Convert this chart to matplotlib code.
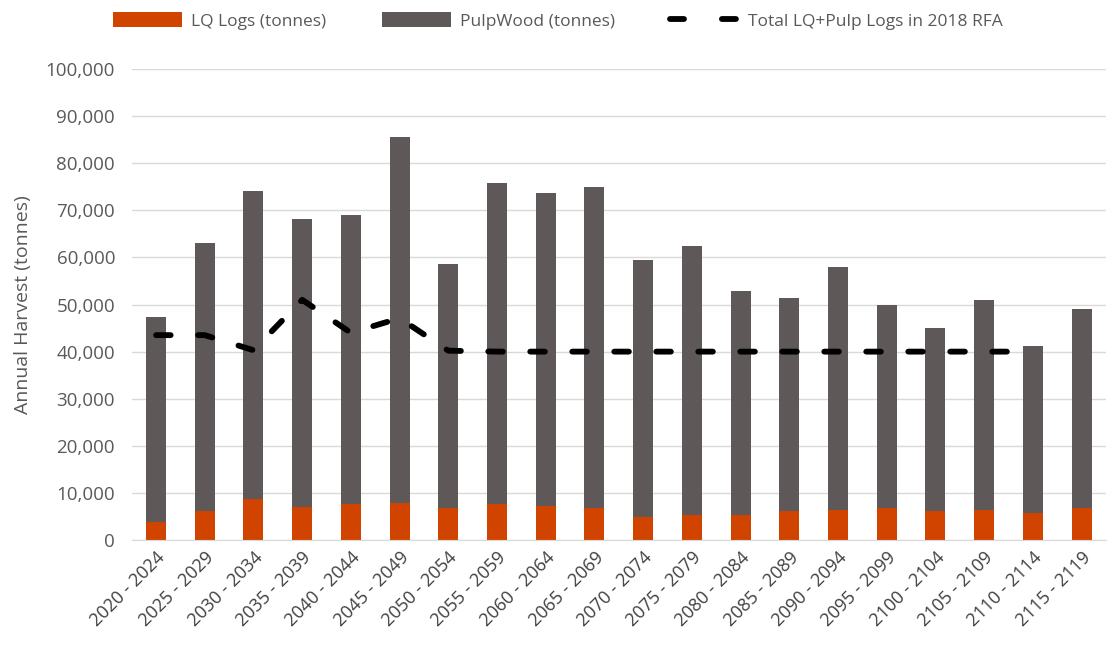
import matplotlib
matplotlib.use("Agg")
import matplotlib.pyplot as plt
from matplotlib.lines import Line2D
from matplotlib.patches import Patch
import numpy as np

periods = ["2020 - 2024", "2025 - 2029", "2030 - 2034", "2035 - 2039", "2040 - 2044",
           "2045 - 2049", "2050 - 2054", "2055 - 2059", "2060 - 2064", "2065 - 2069",
           "2070 - 2074", "2075 - 2079", "2080 - 2084", "2085 - 2089", "2090 - 2094",
           "2095 - 2099", "2100 - 2104", "2105 - 2109", "2110 - 2114", "2115 - 2119"]

lq_logs = [3800, 6150, 8700, 7000, 7600, 7900, 6800, 7600, 7300, 6800,
           4950, 5400, 5400, 6200, 6450, 6700, 6100, 6350, 5800, 6700]

total_harvest = [47400, 63100, 74200, 68150, 69000, 85600, 58600, 75700, 73600, 75000,
                 59450, 62400, 52900, 51400, 58000, 50000, 45100, 51000, 41200, 49000]

rfa_total = [43500, 43500, 40300, 51000, 44000, 47100, 40200, 40000, 40000, 40000,
             40000, 40000, 40000, 40000, 40000, 40000, 40000, 40000, 40000, np.nan]

pulpwood = [t - q for t, q in zip(total_harvest, lq_logs)]

ORANGE = "#D04400"
GREY = "#5F5858"
TEXT = "#595959"
DASH = (0, (2.5, 4.7))

plt.rcParams["font.family"] = ["Open Sans", "DejaVu Sans"]

fig = plt.figure(figsize=(11.16, 6.57), dpi=100)
ax = fig.add_axes([0.118, 0.178, 0.873, 0.717])

x = np.arange(len(periods))
ax.bar(x, lq_logs, width=0.41, color=ORANGE, zorder=2)
ax.bar(x, pulpwood, width=0.41, bottom=lq_logs, color=GREY, zorder=2)
ax.plot(x, rfa_total, color="black", lw=4.2, linestyle=DASH,
        dash_capstyle="round", solid_capstyle="round", zorder=3)

ax.set_xlim(-0.5, len(periods) - 0.5)
ax.set_ylim(0, 100000)
ax.set_yticks(np.arange(0, 100001, 10000))
ax.set_yticklabels([f"{v:,}" for v in range(0, 100001, 10000)], fontsize=13.5, color=TEXT)
ax.set_xticks(x)
ax.set_xticklabels(periods, rotation=45, ha="right", rotation_mode="anchor",
                   fontsize=13, color="#404040")
ax.tick_params(axis="both", length=0)
ax.tick_params(axis="y", pad=12)
ax.tick_params(axis="x", pad=6)

ax.grid(axis="y", color="#D9D9D9", lw=1.0, zorder=0)
for side in ["top", "right", "left"]:
    ax.spines[side].set_visible(False)
ax.spines["bottom"].set_color("#D9D9D9")

ax.set_ylabel("Annual Harvest (tonnes)", fontsize=14, color=TEXT, labelpad=10)

handles = [Patch(facecolor=ORANGE), Patch(facecolor=GREY),
           Line2D([0], [0], color="black", lw=4.2, linestyle=(0, (2.4, 6.5)),
                  dash_capstyle="round")]
labels = ["LQ Logs (tonnes)", "PulpWood (tonnes)", "Total LQ+Pulp Logs in 2018 RFA"]
fig.legend(handles, labels, loc="center", bbox_to_anchor=(0.5, 0.968), ncol=3,
           frameon=False, fontsize=12.5, labelcolor=TEXT, handlelength=4.0,
           handleheight=0.9, handletextpad=0.5, columnspacing=3.2)

fig.savefig("out.png", dpi=100, facecolor="white")
